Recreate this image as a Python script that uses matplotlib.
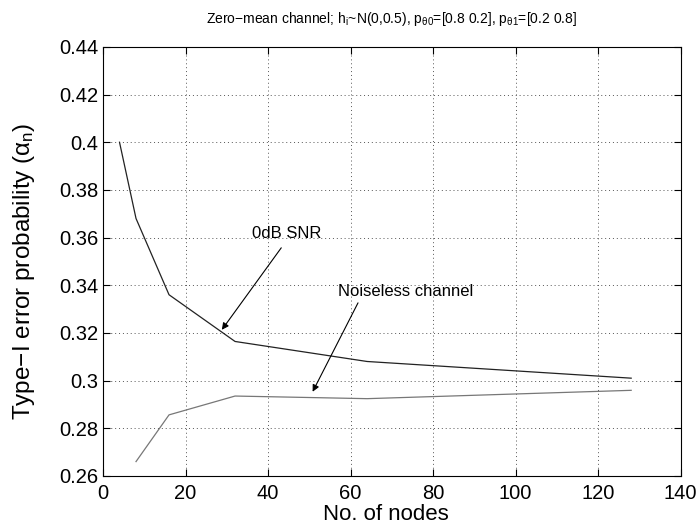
import matplotlib
matplotlib.use("Agg")
import matplotlib.pyplot as plt
from matplotlib.ticker import FuncFormatter

plt.rcParams['font.family'] = ['Liberation Sans', 'DejaVu Sans']
plt.rcParams['mathtext.fontset'] = 'custom'
plt.rcParams['mathtext.rm'] = 'Liberation Sans'
plt.rcParams['mathtext.it'] = 'Liberation Sans'

# data
nodes_snr = [4, 8, 16, 32, 64, 128]
alpha_snr = [0.400, 0.368, 0.336, 0.3164, 0.308, 0.301]
nodes_noiseless = [8, 16, 32, 64, 128]
alpha_noiseless = [0.266, 0.2856, 0.2935, 0.2924, 0.2959]
xticks = [0, 20, 40, 60, 80, 100, 120, 140]
yticks = [0.26, 0.28, 0.30, 0.32, 0.34, 0.36, 0.38, 0.40, 0.42, 0.44]

fig = plt.figure(figsize=(6.96, 5.27), dpi=100)
ax = fig.add_axes([0.148, 0.097, 0.83, 0.814])

ax.plot(nodes_snr, alpha_snr, color='#222222', lw=0.9)
ax.plot(nodes_noiseless, alpha_noiseless, color='#777777', lw=0.9)

arrow = dict(arrowstyle='-|>', color='black', lw=0.8,
             mutation_scale=10, shrinkA=0, shrinkB=0)
ax.text(44.6, 0.3598, '0dB SNR', ha='center', va='baseline', fontsize=12)
ax.annotate('', xy=(28.8, 0.3213), xytext=(43.2, 0.3557), arrowprops=arrow)
ax.text(73.4, 0.3354, 'Noiseless channel', ha='center', va='baseline', fontsize=12)
ax.annotate('', xy=(50.8, 0.2953), xytext=(61.8, 0.3326), arrowprops=arrow)

ax.set_xlim(0, 140)
ax.set_ylim(0.26, 0.44)
ax.set_xticks(xticks)
ax.set_yticks(yticks)
ax.yaxis.set_major_formatter(FuncFormatter(lambda v, p: '%g' % round(v, 2)))
ax.tick_params(direction='in', top=True, right=True, labelsize=14.5, length=5)
ax.tick_params(axis='x', pad=6)
ax.grid(True, linestyle=(0, (1, 3)), color='#555555', lw=0.7)

ax.set_xlabel('No. of nodes', fontsize=16, labelpad=0)
ax.xaxis.set_label_coords(0.49, -0.066)
ax.set_ylabel(r'Type−I error probability ($\alpha_n$)', fontsize=17.5)
ax.yaxis.set_label_coords(-0.114, 0.476)
ax.set_title(r'Zero−mean channel; h$_i$~N(0,0.5), p$_{\theta0}$=[0.8 0.2], p$_{\theta1}$=[0.2 0.8]',
             fontsize=10, pad=17)

fig.savefig('out.png', dpi=100)
